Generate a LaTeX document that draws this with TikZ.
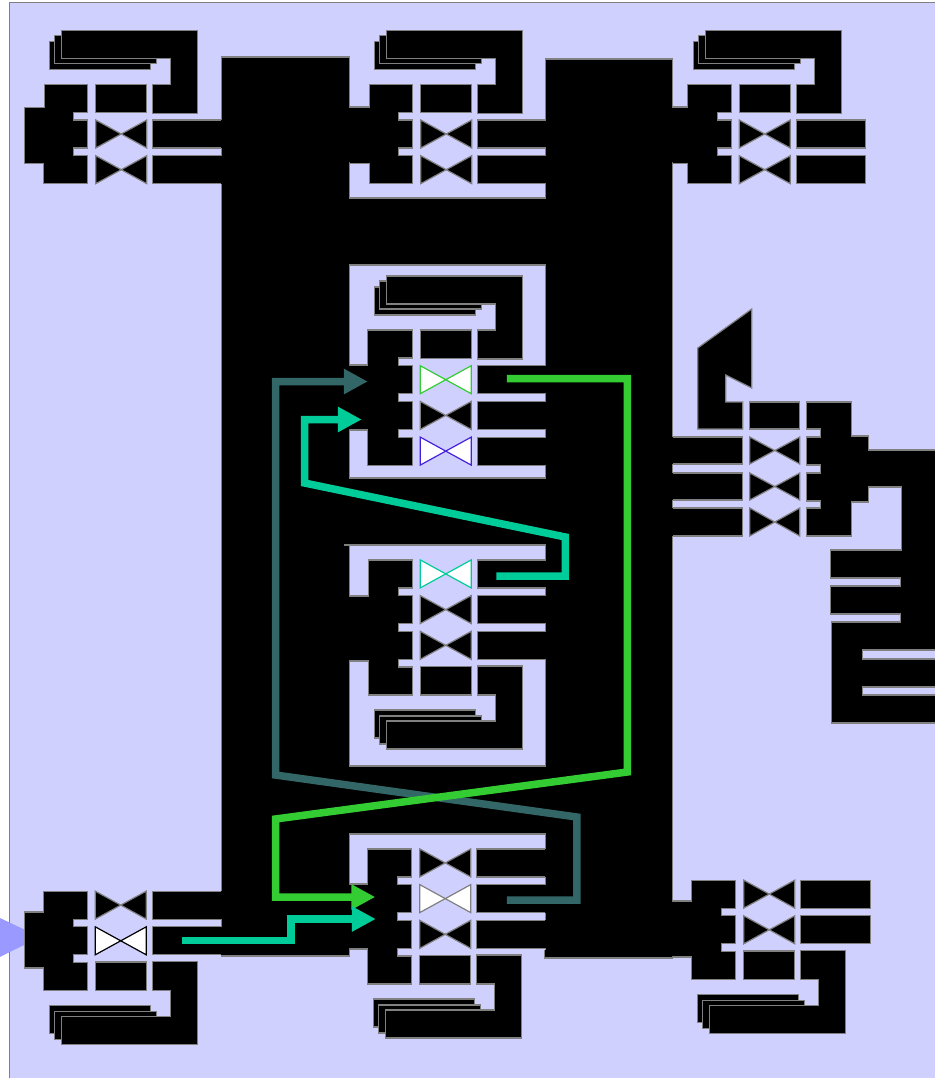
\documentclass[tikz,border=0pt]{standalone}
\usetikzlibrary{arrows.meta}
\definecolor{bgl}{HTML}{D0D0FF}
\definecolor{edge}{HTML}{808080}
\definecolor{gr}{HTML}{33CC33}
\definecolor{tl}{HTML}{00CC99}
\definecolor{dk}{HTML}{336666}
\definecolor{bl}{HTML}{4422DD}
\definecolor{inp}{HTML}{9999FF}
\tikzset{
  blk/.style={fill=black,draw=edge,line width=1.2pt,line join=miter},
  panel/.style={fill=bgl,draw=edge,line width=1.2pt},
  wire/.style={line width=7.5pt,line join=miter,-{Triangle[length=24pt,width=24pt]}},
}
% left block of a cell with two or three switching rows
\newcommand\LBtwo[2]{\filldraw[blk] #1 -- (88,0) -- (88,28) -- (74,28) -- (74,35.7) -- (88,35.7) -- (88,63.7) -- (74,63.7) -- (74,71.4) -- (88,71.4) -- (88,99.4) #2;}
\newcommand\LBthree[2]{\filldraw[blk] #1 -- (88,0) -- (88,28) -- (74,28) -- (74,35.7) -- (88,35.7) -- (88,63.7) -- (74,63.7) -- (74,71.4) -- (88,71.4) -- (88,99.4) -- (74,99.4) -- (74,107.1) -- (88,107.1) -- (88,135.1) #2;}
% folded stack above the plain row
\newcommand\Fold{%
  \filldraw[blk] (50,-43) rectangle (151,-15);
  \filldraw[blk] (55,-49) rectangle (157,-21);
  \filldraw[blk] (62,-54) -- (198,-54) -- (198,29) -- (153,29) -- (153,0) -- (171,0) -- (171,-26) -- (62,-26) -- cycle;
  \filldraw[blk] (96,0) rectangle (147,28.5);}
% bow tie in row k
\newcommand\BT[3]{\filldraw[fill=#2,draw=#3,line width=1.2pt,line join=miter] (96,{35.7*#1}) -- (121.5,{35.7*#1+14}) -- (147,{35.7*#1}) -- (147,{35.7*#1+28}) -- (121.5,{35.7*#1+14}) -- (96,{35.7*#1+28}) -- cycle;}
% bar of row k that runs into the black area
\newcommand\RB[2]{\fill[black] (153,{35.7*#1}) rectangle ({#2+2},{35.7*#1+28});
  \draw[edge,line width=1.2pt] (#2,{35.7*#1}) -- (153,{35.7*#1}) -- (153,{35.7*#1+28}) -- (#2,{35.7*#1+28});}
% bar of row k with a free end
\newcommand\RC[2]{\filldraw[blk] (153,{35.7*#1}) rectangle (#2,{35.7*#1+28});}
% bar of the mirrored cell on the right
\newcommand\LBar[2]{\fill[black] (671,#1) rectangle (743,#2);
  \draw[edge,line width=1.2pt] (673,#1) -- (743,#1) -- (743,#2) -- (673,#2);}
\newcommand\BTR[2]{\filldraw[blk] (750,#1) -- (775,{(#1+#2)/2}) -- (800,#1) -- (800,#2) -- (775,{(#1+#2)/2}) -- (750,#2) -- cycle;}
\begin{document}
\begin{tikzpicture}[x=1pt,y=-1pt]
\useasboundingbox (0.25,0) rectangle (934.25,1078);
\fill[white] (0,0) rectangle (935,1078);
\filldraw[panel] (10,2.5) rectangle (938,1082);
\fill[inp] (-2,917) -- (40.5,937) -- (-2,958) -- cycle;

% the large black area
\filldraw[blk] (221.5,57) -- (350,57) -- (350,107) -- (372,107) -- (372,163) -- (350,163) -- (350,198) -- (546,198) -- (546,59) -- (673,59) -- (673,107) -- (690,107) -- (690,163) -- (673,163) -- (673,901) -- (694,901) -- (694,957) -- (673,957) -- (673,958) -- (545,958) -- (545,949) -- (350,949) -- (350,956) -- (221.5,956) -- cycle;

% panels cut out of it
\filldraw[panel] (350,265) -- (546,265) -- (546,478) -- (350,478) -- (350,430) -- (368,430) -- (368,365) -- (350,365) -- cycle;
\filldraw[panel] (350,545) -- (546,545) -- (546,766) -- (350,766) -- (350,661) -- (368.5,661) -- (368.5,596) -- (350,596) -- cycle;
\draw[edge,line width=1.2pt] (344,545) -- (350,545);
\filldraw[panel] (368,950) -- (368,884) -- (350,884) -- (350,834) -- (545.5,834) -- (545.5,950);

% top left
\begin{scope}[shift={(0,84.3)}]
\Fold
\LBtwo{(44.5,0)}{-- (44,99.4) -- (44,79) -- (25,79) -- (25,23) -- (44.5,23) -- cycle}
\BT{1}{black}{edge}\BT{2}{black}{edge}
\RB{1}{221}\RB{2}{221}
\end{scope}
% top middle
\begin{scope}[shift={(325,84.3)}]
\Fold
\LBtwo{(25,23) -- (45,23) -- (45,0)}{-- (45,99.4) -- (45,79) -- (25,79)}
\BT{1}{black}{edge}\BT{2}{black}{edge}
\RB{1}{221}\RB{2}{221}
\end{scope}
% top right
\begin{scope}[shift={(643.5,84.3)}]
\Fold
\LBtwo{(29.5,23) -- (44.5,23) -- (44.5,0)}{-- (44.5,99.4) -- (44.5,79) -- (29.5,79)}
\BT{1}{black}{edge}\BT{2}{black}{edge}
\RC{1}{222.5}\RC{2}{222.5}
\end{scope}
% upper panel cell
\begin{scope}[shift={(324.5,330)}]
\Fold
\LBthree{(25.5,35) -- (43.5,35) -- (43.5,0)}{-- (43.5,135.1) -- (43.5,100) -- (25.5,100)}
\BT{1}{white}{gr}\BT{2}{black}{edge}\BT{3}{white}{bl}
\RB{1}{221.5}\RB{2}{221.5}\RB{3}{221.5}
\end{scope}
% lower panel cell
\begin{scope}[shift={(324.5,695)},yscale=-1]
\Fold
\LBthree{(25.5,34) -- (44,34) -- (44,0)}{-- (44,135.1) -- (44,99) -- (25.5,99)}
\BT{1}{black}{edge}\BT{2}{black}{edge}\BT{3}{white}{tl}
\RB{1}{221.5}\RB{2}{221.5}\RB{3}{221.5}
\end{scope}
% bottom middle
\begin{scope}[shift={(324,984)},yscale=-1]
\Fold
\LBthree{(26,35) -- (44,35) -- (44,0)}{-- (44,135.1) -- (44,100) -- (26,100)}
\BT{1}{black}{edge}\BT{2}{white}{edge}\BT{3}{black}{edge}
\RB{1}{221.5}\RB{2}{221.5}\RB{3}{221.5}
\end{scope}
% bottom left
\begin{scope}[shift={(-0.5,990.5)},yscale=-1]
\Fold
\LBtwo{(44.5,0)}{-- (44,99.4) -- (44,78.5) -- (25,78.5) -- (25,22.5) -- (44.5,22.5) -- cycle}
\BT{1}{white}{black}\BT{2}{black}{edge}
\RB{1}{221.5}\RB{2}{221.5}
\end{scope}
% bottom right
\begin{scope}[shift={(648,979.5)},yscale=-1]
\Fold
\LBtwo{(25,22.5) -- (44,22.5) -- (44,0)}{-- (44,99.4) -- (44,78.5) -- (25,78.5)}
\BT{1}{black}{edge}\BT{2}{black}{edge}
\RC{1}{223}\RC{2}{223}
\end{scope}

% mirrored cell on the right
\filldraw[blk] (698,348) -- (752,309) -- (752,388) -- (726,375) -- (726,402) -- (743,402) -- (743,429) -- (698,429) -- cycle;
\filldraw[blk] (750,402) rectangle (800,429);
\BTR{437}{464}\BTR{473}{500}\BTR{508}{536}
\LBar{437}{464}\LBar{473}{500}\LBar{508}{536}
\filldraw[blk] (807,402) -- (852,402) -- (852,436) -- (869,436) -- (869,450) -- (936,450) -- (936,650) -- (863,650) -- (863,659) -- (936,659) -- (936,687) -- (863,687) -- (863,695) -- (936,695) -- (936,723) -- (832,723) -- (832,622) -- (901,622) -- (901,614) -- (831,614) -- (831,586) -- (901,586) -- (901,578) -- (831,578) -- (831,550) -- (902,550) -- (902,487) -- (869,487) -- (869,502) -- (852,502) -- (852,536) -- (807,536) -- (807,508) -- (821,508) -- (821,501) -- (807,501) -- (807,473) -- (821,473) -- (821,465) -- (807,465) -- (807,437) -- (821,437) -- (821,429) -- (807,429) -- cycle;

% coloured connections
\coordinate (dkA) at (507,900);
\coordinate (dkB) at (368,381.5);
\coordinate (grA) at (507,378.5);
\coordinate (grB) at (375.5,897);
\coordinate (tlA) at (182,940.5);
\coordinate (tlB) at (376,919);
\coordinate (tlC) at (496.5,576);
\coordinate (tlD) at (362,419.5);
\draw[wire,dk] (dkA) -- (577,900) -- (577,817) -- (275.75,775) -- (275.75,381.5) -- (dkB);
\draw[wire,gr] (grA) -- (627.5,378.5) -- (627.5,772) -- (275.75,819) -- (275.75,897) -- (grB);
\draw[wire,tl] (tlA) -- (291,940.5) -- (291,919) -- (tlB);
\draw[wire,tl] (tlC) -- (565.5,576) -- (565.5,537) -- (304.75,483) -- (304.75,419.5) -- (tlD);
\end{tikzpicture}
\end{document}
